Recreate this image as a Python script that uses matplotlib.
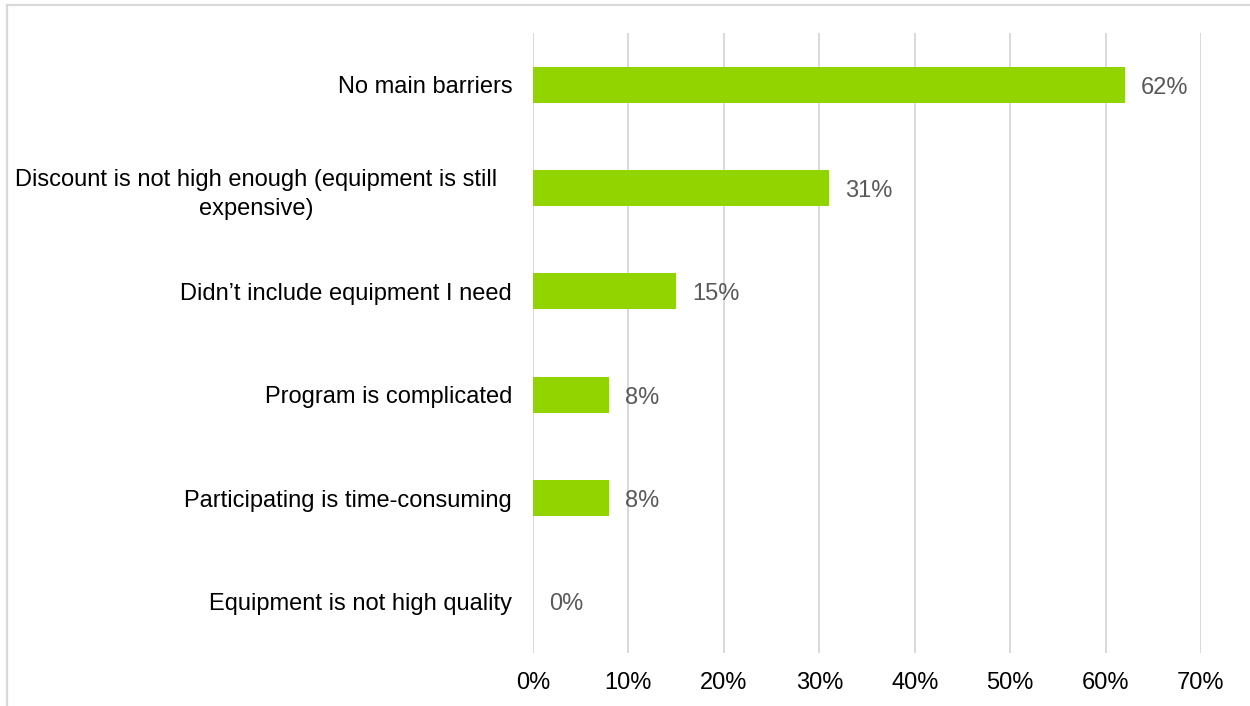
import matplotlib
matplotlib.use("Agg")
import matplotlib.pyplot as plt
from matplotlib.lines import Line2D
from matplotlib.transforms import ScaledTranslation

plt.rcParams['font.family'] = ['Liberation Sans', 'DejaVu Sans']

categories = [
    "No main barriers",
    "Discount is not high enough (equipment is still\nexpensive)",
    "Didn\u2019t include equipment I need",
    "Program is complicated",
    "Participating is time-consuming",
    "Equipment is not high quality",
]
shares = [62, 31, 15, 8, 8, 0]
x_ticks = [0, 10, 20, 30, 40, 50, 60, 70]
x_tick_labels = [f"{t}%" for t in x_ticks]

W, H, DPI = 1250, 706, 100
fig = plt.figure(figsize=(W / DPI, H / DPI), dpi=DPI)
ax = fig.add_axes([533 / W, 1 - 653 / H, (1201 - 533) / W, (653 - 33) / H])

pos = list(range(len(categories)))
ax.barh(pos, shares, height=0.35, color="#92D400", zorder=3)

ax.set_xlim(0, 70)
ax.set_ylim(len(categories) - 0.5, -0.5)
ax.set_xticks(x_ticks)
ax.set_xticklabels(x_tick_labels, fontsize=17, color="black")
ax.set_yticks(pos)
ax.set_yticklabels(categories, fontsize=17, color="black",
                   multialignment="center", linespacing=1.45)
ax.tick_params(axis="both", length=0)
ax.tick_params(axis="y", pad=15)
ax.tick_params(axis="x", pad=14)

ax.grid(axis="x", color="#d9d9d9", linewidth=1.4, zorder=0)
ax.grid(axis="y", visible=False)
for s in ax.spines.values():
    s.set_visible(False)

# the wrapped label sits slightly further left
lbl = ax.get_yticklabels()[1]
lbl.set_transform(lbl.get_transform() + ScaledTranslation(-15 / DPI, 0, fig.dpi_scale_trans))

for p, v in zip(pos, shares):
    ax.annotate(f"{v}%", xy=(v, p), xytext=(16, -3), textcoords="offset pixels",
                ha="left", va="center", fontsize=17, color="#595959")

# outer frame
fig.add_artist(Line2D([7 / W, 1.0], [1 - 5 / H, 1 - 5 / H], transform=fig.transFigure,
                      color="#d9d9d9", linewidth=1.6))
fig.add_artist(Line2D([7 / W, 7 / W], [0.0, 1 - 5 / H], transform=fig.transFigure,
                      color="#d9d9d9", linewidth=1.6))

fig.savefig("out.png", dpi=DPI, facecolor="white")
